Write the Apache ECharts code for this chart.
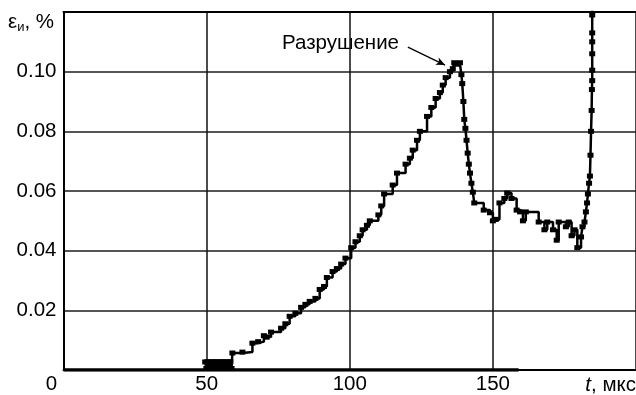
<!DOCTYPE html>
<html>
<head>
<meta charset="utf-8">
<script src="https://cdn.jsdelivr.net/npm/echarts@6/dist/echarts.min.js"></script>
<style>html,body{margin:0;padding:0;background:#fff}#c{width:636px;height:395px}</style>
</head>
<body>
<div id="c"></div>
<script>
// Time, µs
const tValues = [49.5,49.9,50.3,50.7,51.1,51.5,51.9,52.3,52.7,53.1,53.5,53.9,54.3,54.7,55.1,55.5,55.9,56.3,56.7,57.1,57.5,57.9,58.3,58.7,59,62.5,66,68,70,71,72.5,76,77.5,79,81,83,84.5,86,88,89.5,91,92,94,95.5,97,98.5,100.5,102,103.5,104.5,106,107,110,111,112,115,116.5,119.5,121,122,123.5,124.5,127,128.5,130,131.5,132.5,133.5,135,136,136.5,137.5,138.5,139,139.3,139.7,140,140.4,140.8,141.2,141.6,142,142.5,143,143.5,146.8,149,150,151,152.3,154,155,156.5,158.3,159.5,160.5,161.5,166,168,169,171,172.3,173,175.5,176.5,177.5,178.5,179.5,180.8,181.3,182,182.5,182.9,183.2,183.6,183.9,184.1,184.3,184.5,184.6,184.7,184.7,184.7,184.7,184.7,184.7,184.7];
// Strain, %
const epsValues = [0.0027,0.0005,0.0028,0.0005,0.0026,0.0005,0.0028,0.0005,0.0027,0.0005,0.0028,0.0005,0.0026,0.0005,0.0028,0.0005,0.0027,0.0005,0.0028,0.0005,0.0026,0.0005,0.0028,0.0005,0.0057,0.006,0.009,0.0095,0.0115,0.011,0.0127,0.014,0.0155,0.018,0.019,0.021,0.022,0.023,0.024,0.027,0.028,0.031,0.033,0.034,0.0355,0.0375,0.041,0.043,0.045,0.047,0.0485,0.050,0.052,0.055,0.059,0.062,0.066,0.069,0.071,0.0737,0.077,0.080,0.085,0.088,0.091,0.093,0.0955,0.098,0.100,0.101,0.103,0.1025,0.103,0.099,0.096,0.090,0.084,0.081,0.077,0.0727,0.069,0.066,0.0626,0.0596,0.056,0.0536,0.0527,0.050,0.0505,0.056,0.0575,0.0593,0.0575,0.0536,0.053,0.050,0.053,0.0496,0.047,0.0496,0.047,0.0435,0.0496,0.048,0.0496,0.045,0.047,0.041,0.0446,0.048,0.0496,0.053,0.056,0.059,0.0626,0.065,0.072,0.080,0.087,0.094,0.097,0.1005,0.106,0.110,0.113,0.119,0.122];
// Zero baseline trace
const baseT = [0,159];
const baseEps = [0,0];
// Annotation arrow (data coordinates)
const arrowFrom = [120.3,0.1082];
const arrowTo = [133.3,0.1022];
// Axes
const xTicks = {min:0,max:200,interval:50};
const yTicks = {min:0,max:0.12,interval:0.02};

const mainData = tValues.map((t,i)=>[t,epsValues[i]]);
const baseData = baseT.map((t,i)=>[t,baseEps[i]]);
const FONT = '"Liberation Sans", Arial, sans-serif';
const FS = 20.5;

const chart = echarts.init(document.getElementById('c'), null, {renderer:'canvas'});
chart.setOption({
  animation:false,
  backgroundColor:'#fff',
  grid:{left:63.5,right:0,top:12,bottom:25,containLabel:false},
  xAxis:[{
    type:'value',min:xTicks.min,max:xTicks.max,interval:xTicks.interval,
    axisLine:{show:true,onZero:false,lineStyle:{color:'#000',width:2}},
    axisTick:{show:false},
    splitLine:{show:true,lineStyle:{color:'#111',width:1.5}},
    axisLabel:{show:true,margin:4,fontFamily:FONT,fontSize:FS,color:'#000',
      showMaxLabel:false,
      formatter:v=> v===0 ? '{z|0}' : (v>=200?'':String(v)),
      rich:{z:{fontFamily:FONT,fontSize:FS,color:'#000',padding:[0,24,0,0]}}}
  },{
    type:'value',position:'top',min:xTicks.min,max:xTicks.max,interval:xTicks.interval,
    axisLine:{show:true,onZero:false,lineStyle:{color:'#000',width:2}},
    axisTick:{show:false},axisLabel:{show:false},splitLine:{show:false}
  }],
  yAxis:{
    type:'value',min:yTicks.min,max:yTicks.max,interval:yTicks.interval,
    axisLine:{show:true,lineStyle:{color:'#000',width:2}},
    axisTick:{show:false},
    splitLine:{show:true,lineStyle:{color:'#555',width:2}},
    axisLabel:{show:true,margin:7,fontFamily:FONT,fontSize:FS,color:'#000',
      formatter:v=> (v<=0.0001||v>=0.1199)?'':v.toFixed(2)}
  },
  series:[
    {type:'line',data:baseData,showSymbol:false,lineStyle:{color:'#000',width:3.5},silent:true,z:3},
    {type:'line',data:mainData,step:'end',symbol:'rect',symbolSize:[6,5],showSymbol:true,
     itemStyle:{color:'#000'},lineStyle:{color:'#000',width:2.5},silent:true,z:4,
     markLine:{silent:true,symbol:['none','arrow'],symbolSize:[6,9],
       lineStyle:{color:'#000',width:1.3,type:'solid'},label:{show:false},
       data:[[{coord:arrowFrom},{coord:arrowTo}]]}}
  ],
  graphic:[
    {type:'text',left:8,top:12,style:{
      text:'{e|ε}{s|и}{e|, %}',
      rich:{e:{fontFamily:FONT,fontSize:FS,fill:'#000'},
            s:{fontFamily:FONT,fontSize:13,fill:'#000',padding:[9,0,0,0]}}}},
    {type:'text',left:282,top:33,style:{text:'Разрушение',fontFamily:FONT,fontSize:FS,fill:'#000'}},
    {type:'text',right:0,top:375,style:{
      text:'{i|t}{n|, мкс}',
      rich:{i:{fontFamily:FONT,fontSize:FS,fontStyle:'italic',fill:'#000'},
            n:{fontFamily:FONT,fontSize:FS,fill:'#000'}}}}
  ]
});
</script>
</body>
</html>
